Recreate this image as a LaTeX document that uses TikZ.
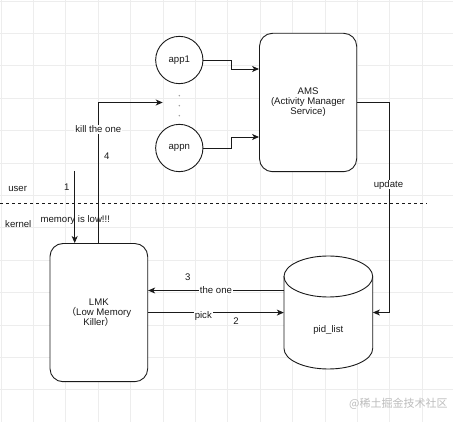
\documentclass[tikz,border=0pt]{standalone}
\usepackage{fontspec}
\setmainfont{Liberation Sans}
\newfontfamily\cjk{Noto Sans CJK SC}
\usetikzlibrary{arrows.meta}
\definecolor{gridc}{HTML}{EDEDED}
\definecolor{linec}{HTML}{1A1A1A}
\definecolor{wmc}{HTML}{BDBDBD}
\begin{document}
\lineskiplimit=-5pt\relax
\begin{tikzpicture}[x=1pt,y=-1pt,
  every node/.style={font=\fontsize{9.6}{10}\selectfont, inner sep=0pt, text=linec},
  conn/.style={draw=linec, line width=0.9pt},
  arr/.style={conn, -{Stealth[length=7pt,width=6pt,inset=2pt]}},
  boxn/.style={draw=linec, line width=0.9pt, fill=white, rounded corners=13pt, align=center},
  appc/.style={circle, draw=linec, line width=0.9pt, fill=white, minimum size=47.3pt},
  lbl/.style={text height=7pt, text depth=2pt},
  lblbg/.style={lbl, fill=white, inner xsep=1pt},
  dotn/.style={circle, fill=gray!80, minimum size=1.6pt},
  gridl/.style={draw=gridc, line width=0.8pt},
  dashl/.style={draw=linec, line width=0.8pt, dash pattern=on 3pt off 3pt}
]
\useasboundingbox (0,0) rectangle (453,422);
\fill[white] (0,0) rectangle (453,422);
\foreach \k in {0,...,13}{
  \draw[gridl] ({1+32.4*\k},0) -- ({1+32.4*\k},422);
  \draw[gridl] (0,{1+32.4*\k}) -- (453,{1+32.4*\k});
}
% dashed user/kernel boundary
\coordinate (dl1) at (0,203.3);
\coordinate (dl2) at (426.7,203.3);
\draw[dashl] (dl1) -- (dl2);

% nodes
\node[appc] (app1) at (179.3,60) {app1};
\node[appc] (appn) at (179.3,148) {appn};
\node[dotn] (d1) at (179.3,95.7) {};
\node[dotn] (d2) at (179.3,105.7) {};
\node[dotn] (d3) at (179.3,115.7) {};
\node[boxn, minimum width=97.2pt, minimum height=138.4pt] (AMS) at (308.1,102.5) {AMS\\(Activity Manager\\Service)};
\node[boxn, minimum width=97.7pt, minimum height=138.2pt] (LMK) at (98.85,312.6) {LMK\\{\cjk （}Low Memory\\Killer{\cjk ）}};

% cylinder pid_list
\node[minimum width=88.7pt, minimum height=113pt] (pid) at (328.35,312.5) {};
\draw[conn, fill=white] (284,276.5) -- (284,348.5)
  arc[start angle=180, end angle=360, x radius=44.35pt, y radius=20.5pt]
  -- (372.7,276.5)
  arc[start angle=0, end angle=180, x radius=44.35pt, y radius=20.5pt] -- cycle;
\draw[conn] (284,276.5) arc[start angle=180, end angle=360, x radius=44.35pt, y radius=20.5pt];
\node (pidt) at (328.35,330) {pid\_list};

% connectors
\draw[arr] (app1.east) -- ++(28,0) |- ([yshift=33.5pt]AMS.west);
\draw[arr] (appn.east) -- ++(28,0) |- ([yshift=-34.5pt]AMS.west);
\draw[arr] (AMS.east) -- ++(31.8,0) coordinate (uc) |- (pid.east);
\coordinate (c1) at (74.7,171);
\draw[arr] (c1) -- (c1 |- LMK.north);
\coordinate (kt) at (162.7,102.5);
\draw[arr] ([xshift=-0.5pt]LMK.north) |- (kt);
\coordinate (to1) at ([yshift=22pt]pid.west);
\draw[arr] (to1) -- (to1 -| LMK.east);
\draw[arr] (LMK.east) -- (LMK.east -| pid.west);

% labels
\node[lblbg] (upd) at (388.5,185) {update};
\node[lblbg] (kill) at (98.3,130) {kill the one};
\node[lblbg] (theone) at (216,291) {the one};
\node[lblbg] (pick) at (203.3,316) {pick};
\node[lbl] (n1) at (66.7,188.3) {1};
\node[lbl] (n2) at (236,322) {2};
\node[lbl] (n3) at (187.7,277.7) {3};
\node[lbl] (n4) at (106.7,156.7) {4};
\node[lbl] (user) at (17.7,189) {user};
\node[lbl] (kernel) at (18.3,225) {kernel};
\node[lbl] (mem) at (75.3,220) {memory is low!!!};
\node[text=wmc, font=\cjk\fontsize{11}{11}\selectfont] (wm) at (398.3,403.3) {@稀土掘金技术社区};
\end{tikzpicture}
\end{document}
